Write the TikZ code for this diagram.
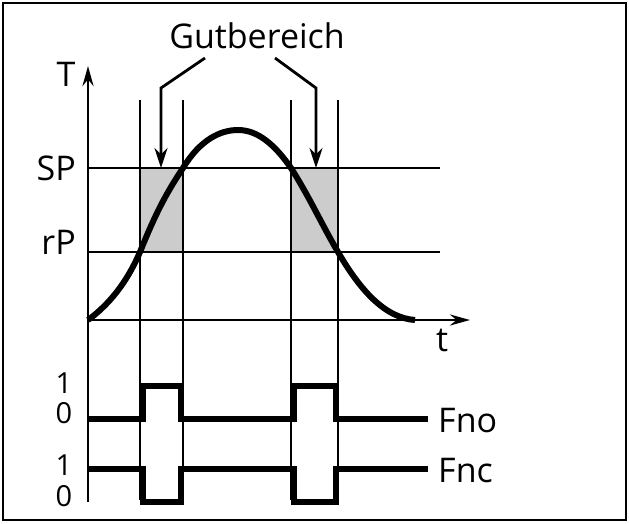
\documentclass[tikz,border=0pt]{standalone}
\usepackage{fontspec}
\setmainfont{Open Sans}
\usetikzlibrary{arrows.meta}
\begin{document}
\begin{tikzpicture}[x=1pt,y=-1pt,
  thinl/.style={line width=2.8pt},
  thickl/.style={line width=6pt},
  lab/.style={font=\fontsize{34}{36}\selectfont, inner sep=0pt},
  dig/.style={font=\fontsize{29}{30}\selectfont, inner sep=0pt}]
\useasboundingbox (0,0) rectangle (629,523);
\draw[line width=2.5pt] (3,3) rectangle (626,520);
% gray zones
\fill[gray!40] (140,168) rectangle (183,252);
\fill[gray!40] (291,168) rectangle (338,252);
% axes
\draw[thinl,-{Stealth[length=20pt,width=11pt]}] (88,502) -- (88,66);
\draw[thinl,-{Stealth[length=20pt,width=11pt]}] (88,320) -- (470,320);
\draw[thinl] (88,168) -- (440,168);
\draw[thinl] (88,252) -- (440,252);
\foreach \x in {140,183,291,338} \draw[thinl] (\x,100) -- (\x,500);
% curve
\draw[thickl] (88,320) .. controls (115,300) and (130,275) .. (140,252)
  .. controls (155,215) and (165,195) .. (183,168)
  .. controls (200,140) and (220,130) .. (238,130)
  .. controls (258,130) and (275,145) .. (291,168)
  .. controls (310,198) and (322,225) .. (338,252)
  .. controls (360,290) and (385,318) .. (415,320);
% labels
\node[lab] (T) at (66,74) {T};
\node[lab] (t) at (442,340) {t};
\node[lab,anchor=east] (SP) at (76,168) {SP};
\node[lab,anchor=east] (rP) at (76,242) {rP};
\node[lab] (G) at (257,36) {Gutbereich};
\coordinate (a1) at (205,58);
\coordinate (a2) at (275,58);
\draw[thinl,-{Stealth[length=20pt,width=13pt]}] (a1) -- (161,88) -- (161,168);
\draw[thinl,-{Stealth[length=20pt,width=13pt]}] (a2) -- (316,88) -- (316,168);
% signals
\node[dig] (o1) at (64,383) {1};
\node[dig] (o0) at (64,413) {0};
\node[dig] (c1) at (64,465) {1};
\node[dig] (c0) at (64,496) {0};
\draw[thickl] (88,419) -- (143,419) -- (143,386) -- (181,386) -- (181,419) -- (294,419) -- (294,386) -- (336,386) -- (336,419) -- (428,419);
\draw[thickl] (88,469) -- (143,469) -- (143,502) -- (181,502) -- (181,469) -- (294,469) -- (294,502) -- (336,502) -- (336,469) -- (428,469);
\node[lab,anchor=west] (Fno) at (438,421) {Fno};
\node[lab,anchor=west] (Fnc) at (438,471) {Fnc};
\end{tikzpicture}
\end{document}
